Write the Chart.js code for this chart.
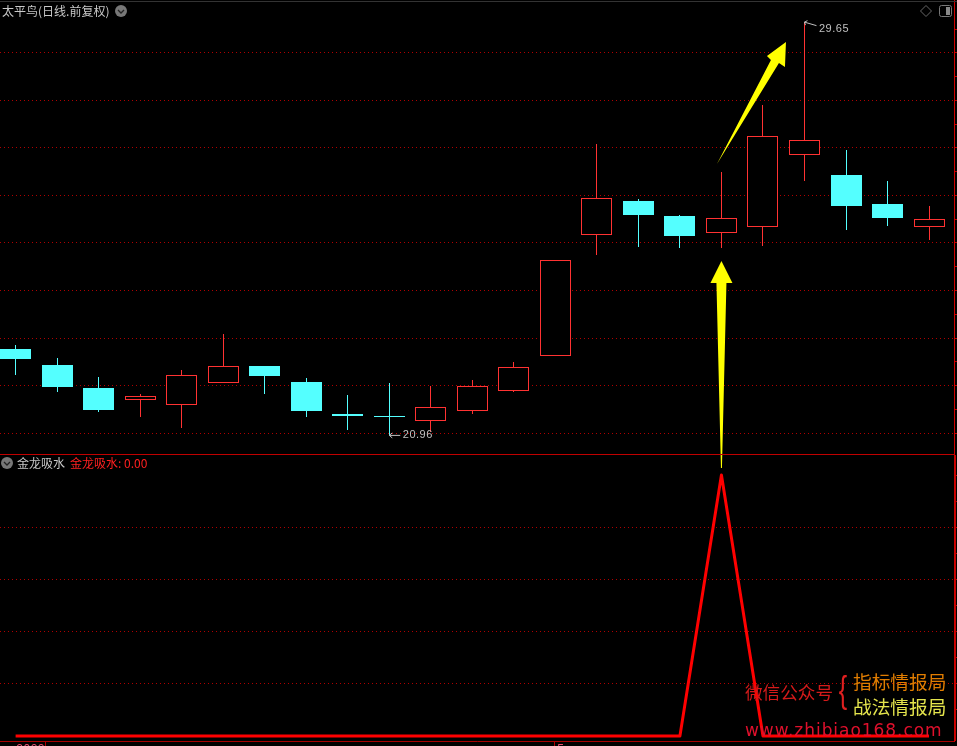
<!DOCTYPE html>
<html><head><meta charset="utf-8">
<style>
html,body{margin:0;padding:0;background:#000;width:957px;height:746px;overflow:hidden}
#wrap{position:relative;width:957px;height:746px;overflow:hidden}
canvas{position:absolute;left:0;top:0}
.t{position:absolute;white-space:nowrap;line-height:1;font-family:"Noto Sans CJK SC",sans-serif}
.r{position:absolute}
svg{position:absolute}
</style>
<script src="https://cdn.jsdelivr.net/npm/chart.js@4"></script>
</head><body><div id="wrap"><canvas id="c" width="957" height="746"></canvas>
<div class="r" style="left:0;top:1px;width:957px;height:1px;background:#333"></div>
<div class="r" style="left:0;top:454px;width:955px;height:1px;background:#c00000"></div>
<div class="r" style="left:955px;top:455px;width:1px;height:286px;background:#c00000"></div>
<div class="t" style="left:2px;top:5px;font-size:12px;color:#c8c8c8">太平鸟(日线.前复权)</div>
<svg style="left:115px;top:5px" width="12" height="12"><circle cx="6" cy="6" r="6" fill="#777"/><path d="M3 5 L6 8 L9 5" stroke="#222" fill="none" stroke-width="1.3"/></svg>
<svg style="left:920px;top:5px" width="12" height="12"><path d="M6 .5 L11.5 6 L6 11.5 L.5 6 Z" stroke="#666" fill="none"/></svg>
<svg style="left:939px;top:5px" width="13" height="12"><rect x=".5" y=".5" width="12" height="11" rx="2" stroke="#777" fill="none"/><rect x="7" y="2" width="4" height="8" fill="#888"/></svg>
<svg style="left:1px;top:457px" width="12" height="12"><circle cx="6" cy="6" r="6" fill="#777"/><path d="M3 5 L6 8 L9 5" stroke="#222" fill="none" stroke-width="1.3"/></svg>
<div class="t" style="left:17px;top:457px;font-size:12px;color:#c8c8c8">金龙吸水</div>
<div class="t" style="left:70px;top:457px;font-size:12px;color:#ff2020">金龙吸水: 0.00</div>
<div class="t" style="left:745px;top:683px;font-size:17.6px;color:#d41a1a">微信公众号</div>
<div class="t" style="left:837px;top:672px;font-size:36px;font-family:'Liberation Sans';font-weight:normal;color:#e02020;transform:scaleX(.7)">{</div>
<div class="t" style="left:853px;top:672px;font-size:18.7px;color:#e07c00">指标情报局</div>
<div class="t" style="left:853px;top:697px;font-size:18.7px;color:#e4e44c">战法情报局</div>
<div class="t" style="left:745px;top:721.5px;font-size:17px;letter-spacing:.95px;font-family:'DejaVu Sans';color:#e0102c">www.zhibiao168.com</div>
<div class="t" style="left:16px;top:744px;font-size:12px;font-family:'Liberation Mono';color:#e85070">2022</div>
<div class="t" style="left:557px;top:744px;font-size:12px;font-family:'Liberation Mono';color:#e85070">5</div>
</div>
<script>
const candleIndex=[0,1,2,3,4,5,6,7,8,9,10,11,12,13,14,15,16,17,18,19,20,21,22];
const opens =[22.77,22.43,21.95,21.69,21.59,22.05,22.41,22.07,21.40,21.36,21.25,21.46,21.88,22.62,25.17,25.88,25.57,25.21,25.34,26.85,26.43,25.82,25.34];
const closes=[22.56,21.97,21.48,21.78,22.22,22.41,22.20,21.46,21.36,21.34,21.55,21.99,22.39,24.64,25.95,25.59,25.15,25.53,27.25,27.17,25.78,25.53,25.51];
const highs =[22.85,22.58,22.18,21.82,22.33,23.08,22.41,22.16,21.80,22.05,21.99,22.12,22.49,24.64,27.08,25.93,25.59,26.49,27.91,29.65,26.96,26.31,25.78];
const lows  =[22.22,21.86,21.44,21.34,21.11,22.05,21.82,21.34,21.06,20.96,21.02,21.40,21.86,22.62,24.75,24.92,24.89,24.89,24.94,26.31,25.27,25.36,25.06];
const indicator=[0,0,0,0,0,0,0,0,0,0,0,0,0,0,0,0,0,1,0,0,0,0,0];
const priceTicks=[21,21.5,22,22.5,23,23.5,24,24.5,25,25.5,26,26.5,27,27.5,28,28.5,29,29.5];
const indicatorTicks=[0.1,0.2,0.3,0.4,0.5,0.6,0.7,0.8,0.9,1.0];
const timeTicks=[0.72,12.98];
const highLabel={i:19,v:29.65,text:'29.65'};
const lowLabel={i:9,v:20.96,text:'20.96'};

const RED='#ff3232',CYAN='#54ffff',GRID='#b00000';
const up=candleIndex.map(i=>closes[i]>=opens[i]);
const colours=up.map(u=>u?RED:CYAN);
const fills=up.map(u=>u?'#000':CYAN);

const snap={id:'snap',beforeDatasetDraw(ch,args){
  const m=args.meta; if(m.type!=='bar')return;
  m.data.forEach(e=>{e.x=Math.floor(e.x)+.5;e.y=Math.round(e.y);e.base=Math.round(e.base);});
}};
const overlay={id:'overlay',afterDatasetsDraw(ch){
  const c=ch.ctx,X=ch.scales.x,Y=ch.scales.y;
  const poly=(ax,ay,pts)=>{c.beginPath();pts.forEach((p,k)=>{k?c.lineTo(ax+p[0],ay+p[1]):c.moveTo(ax+p[0],ay+p[1]);});c.closePath();c.fillStyle='#ffff00';c.fill();};
  c.save();
  poly(X.getPixelForValue(17),Y.getPixelForValue(24.62),[[0,0],[-11,22],[-5,22],[-.5,207],[.5,207],[5,22],[11,22]]);
  poly(X.getPixelForValue(18),Y.getPixelForValue(29.23),[[23,0],[4,14],[8,18],[-46,122],[16,21],[22,25]]);
  c.strokeStyle='#c0c0c0';c.fillStyle='#c0c0c0';c.lineWidth=1;
  c.font='11px "Liberation Sans"';c.textBaseline='middle';c.letterSpacing='0.5px';
  let x=X.getPixelForValue(lowLabel.i),y=Y.getPixelForValue(lowLabel.v);
  c.beginPath();c.moveTo(x,y+.5);c.lineTo(x+11,y+.5);c.moveTo(x+3,y-2);c.lineTo(x,y+.5);c.lineTo(x+3,y+3);c.stroke();
  c.fillText(lowLabel.text,x+13.5,y+.5);
  x=X.getPixelForValue(highLabel.i);y=Y.getPixelForValue(highLabel.v);
  c.beginPath();c.moveTo(x,y);c.lineTo(x+12,y+3.5);c.moveTo(x+3,y-1.5);c.lineTo(x,y);c.lineTo(x+1,y+3);c.stroke();
  c.fillText(highLabel.text,x+14.5,y+6.5);
  c.restore();
}};
new Chart(document.getElementById('c'),{
  data:{datasets:[
    {type:'bar',order:3,yAxisID:'y',data:candleIndex.map(i=>({x:i,y:[lows[i],highs[i]]})),backgroundColor:colours,borderWidth:0,barThickness:1,grouped:false,inflateAmount:0},
    {type:'bar',order:2,yAxisID:'y',data:candleIndex.map(i=>({x:i,y:[opens[i],closes[i]]})),backgroundColor:fills,borderColor:colours,borderWidth:1,borderSkipped:false,barThickness:31,grouped:false,inflateAmount:0},
    {type:'line',order:1,yAxisID:'ind',data:candleIndex.map(i=>({x:i,y:indicator[i]})),borderColor:'#ff0000',borderWidth:3,pointRadius:0,tension:0,borderJoinStyle:'round'}
  ]},
  plugins:[snap,overlay],
  options:{
    responsive:false,animation:false,events:[],
    layout:{padding:0},
    plugins:{legend:{display:false},tooltip:{enabled:false},title:{display:false}},
    scales:{
      x:{type:'linear',offset:false,position:'bottom',min:-15.6/41.52,max:(954-15.6)/41.52,
        afterBuildTicks:s=>{s.ticks=timeTicks.map(v=>({value:v}));},
        afterFit:s=>{s.height=4.5;},
        ticks:{display:false},
        grid:{offset:false,drawOnChartArea:false,tickLength:5,tickColor:'#b00000'},
        border:{display:true,color:'#a80000',width:1}},
      y:{type:'linear',position:'right',weight:1,min:21-(741.5-433)/47.5,max:21+433/47.5,
        afterBuildTicks:s=>{s.ticks=priceTicks.map(v=>({value:v}));},
        afterFit:s=>{s.width=3;},
        ticks:{display:false},
        grid:{color:c=>Number.isInteger(c.tick.value)?GRID:'rgba(0,0,0,0)',tickColor:'#c00000',tickLength:3},
        border:{display:true,color:'#d00000',dash:[1,3],width:1}},
      ind:{type:'linear',position:'right',weight:0,min:-5.5/261,max:736/261,
        afterBuildTicks:s=>{s.ticks=indicatorTicks.map(v=>({value:v}));},
        afterFit:s=>{s.width=0;},
        ticks:{display:false},
        grid:{color:c=>(Math.round(c.tick.value*10)%2===0&&c.tick.value<1)?GRID:'rgba(0,0,0,0)',tickColor:'#c00000',tickLength:3},
        border:{display:false,dash:[1,3]}}
    }
  }
});
</script></body></html>
